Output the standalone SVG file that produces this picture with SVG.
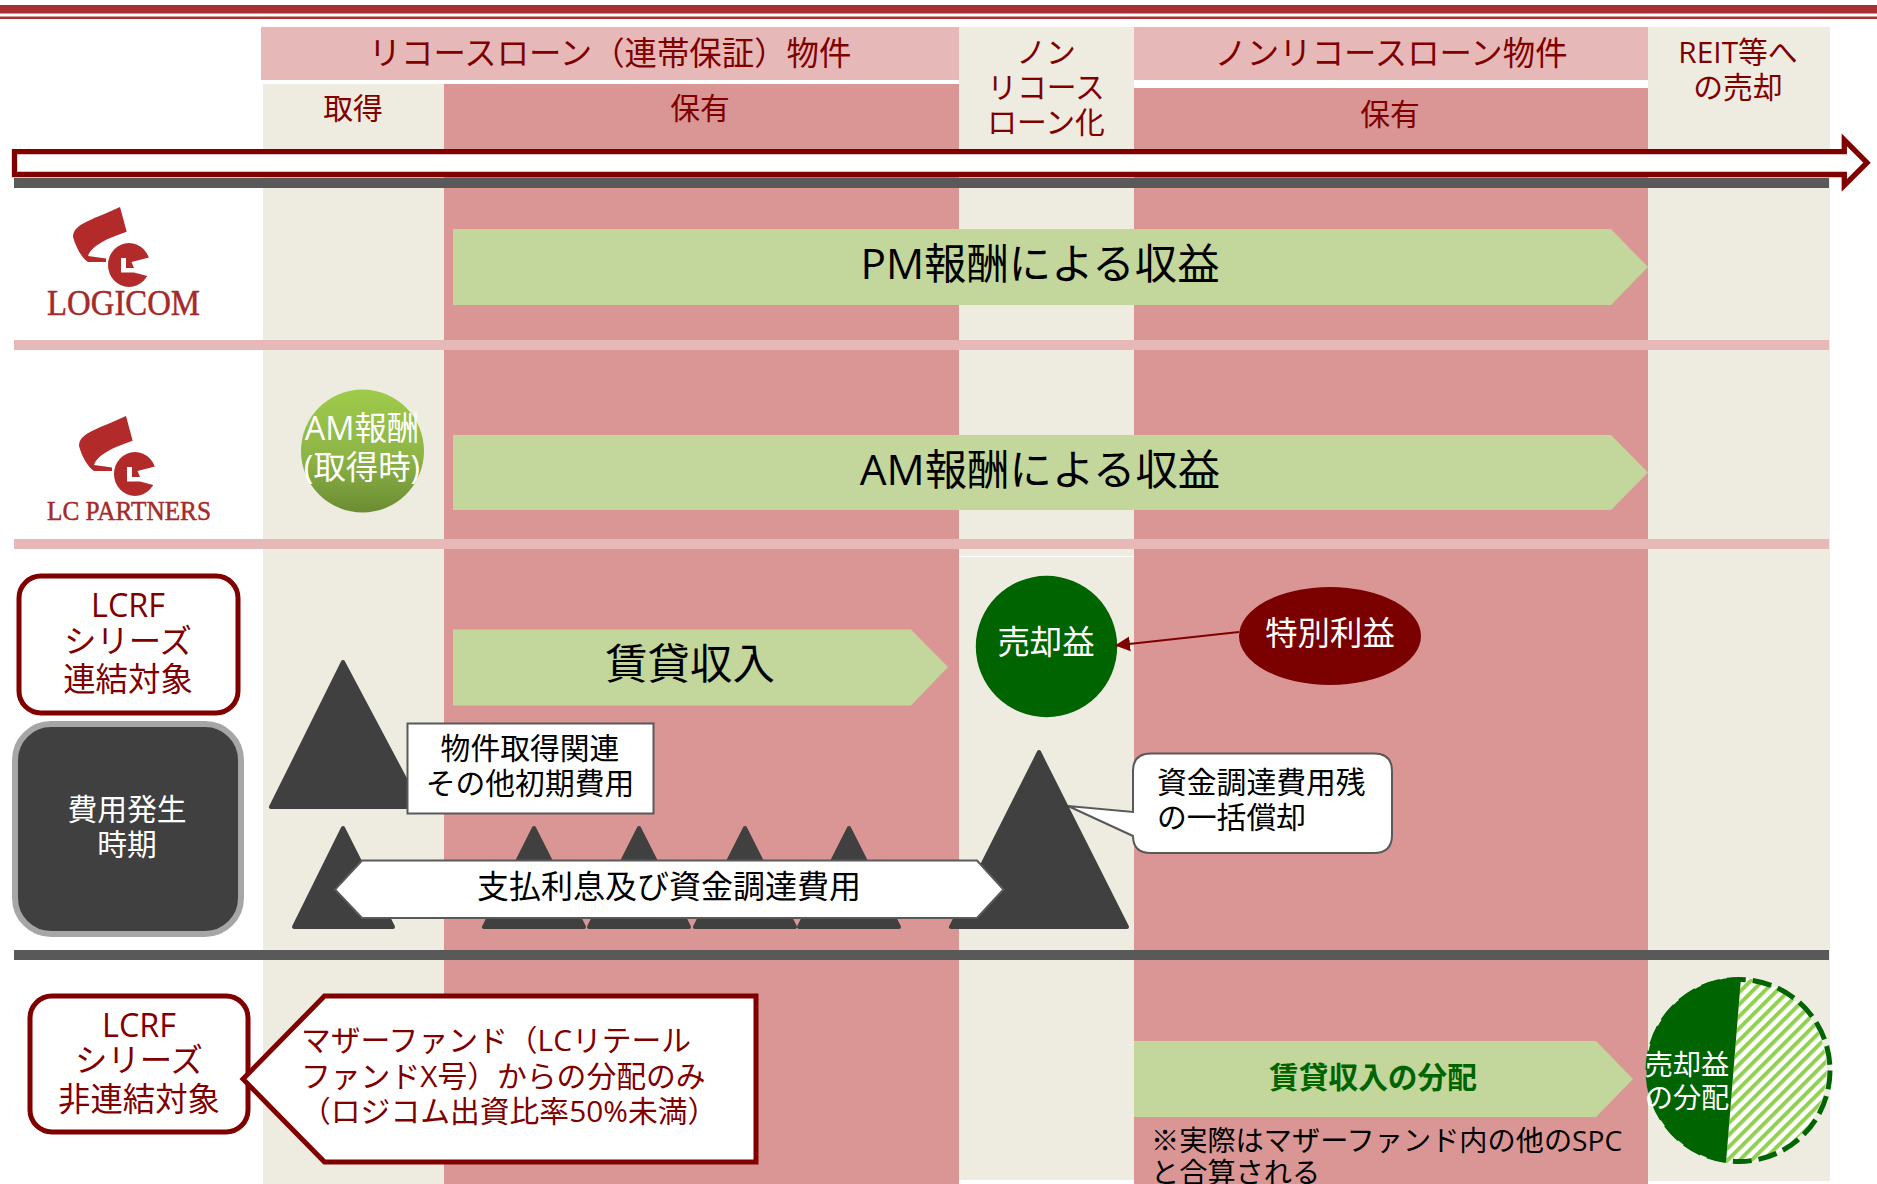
<svg xmlns="http://www.w3.org/2000/svg" xmlns:xlink="http://www.w3.org/1999/xlink" width="1877" height="1184" viewBox="0 0 1877 1184">
<style>
text{font-family:"Open Sans","Noto Sans CJK JP",sans-serif;text-anchor:middle}
.r{fill:#800000}.b{fill:#000}.w{fill:#fff}
.s29{font-size:29.8px}.s32{font-size:32.4px}.s42{font-size:42.4px}.s28{font-size:28.2px}
.st{text-anchor:start}
.beige{fill:#EEECE1}.pink{fill:#D99694}.lp{fill:#E6B9B8}.dk{fill:#595959}.gr{fill:#C3D69B}.tri{fill:#404040;stroke:#404040;stroke-width:4;stroke-linejoin:round}
.logo{font-family:"Liberation Serif",serif;fill:#A52A2A;stroke:#A52A2A;stroke-width:.5;text-anchor:start}
.rbox{fill:#fff;stroke:#800000;stroke-width:5}
</style>
<defs>
<linearGradient id="amg" x1="0" y1="0" x2="0" y2="1"><stop offset="0" stop-color="#9FCB4A"/><stop offset="0.55" stop-color="#8DB446"/><stop offset="1" stop-color="#6B8C33"/></linearGradient>
<pattern id="hatch" width="8.5" height="8.5" patternUnits="userSpaceOnUse" patternTransform="rotate(45)"><rect width="8.5" height="8.5" fill="#fff"/><rect width="4" height="8.5" fill="#92D050"/></pattern>
<marker id="ah" markerUnits="userSpaceOnUse" markerWidth="16" markerHeight="16" refX="15" refY="8" orient="auto"><path d="M0,0.5L15,8L0,15.5Z" fill="#800000"/></marker>
<g id="icon">
<path d="M120,207L126.7,231.7C108,238 92,245 88,256L106,258.5L106,262L88,262C82,258 76,248 73,237C73,230 78,226 86,222C98,216 110,212 120,207Z" fill="#B22A2A"/>
<ellipse cx="129" cy="265" rx="21" ry="22" fill="#B22A2A"/>
<path d="M121,258H126V268H134L131.5,262L151,257V277L134,272.5H121Z" fill="#fff"/>
</g>
</defs>

<g id="top-rule"><rect x="0" y="5" width="1877" height="8.5" fill="#A93030"/><rect x="0" y="16.5" width="1877" height="2.5" fill="#A93030"/></g>

<g id="columns">
<rect class="lp" x="261" y="27" width="698" height="53"/>
<rect class="beige" x="263" y="84" width="181" height="1100"/>
<rect class="pink" x="444" y="84" width="515" height="1100"/>
<rect class="beige" x="959" y="27" width="175" height="1153"/>
<rect class="lp" x="1134" y="27" width="514" height="53"/>
<rect class="pink" x="1134" y="88" width="514" height="1096"/>
<rect class="beige" x="1648" y="27" width="182" height="1154"/>
<rect x="959" y="556" width="175" height="1" fill="#fff"/>
<rect class="dk" x="14" y="178" width="1815" height="10"/>
<rect class="lp" x="14" y="340" width="1815" height="10"/>
<rect class="lp" x="14" y="539" width="1815" height="10"/>
<rect class="dk" x="14" y="950" width="1815" height="10"/>
</g>

<g id="headers">
<text class="r s32" x="610" y="65">リコースローン（連帯保証）物件</text>
<text class="r s29" x="353" y="119">取得</text>
<text class="r s29" x="700" y="119">保有</text>
<text class="r s29" x="1046" y="63">ノン</text>
<text class="r s29" x="1046" y="98">リコース</text>
<text class="r s29" x="1046" y="133">ローン化</text>
<text class="r s32" x="1391" y="65">ノンリコースローン物件</text>
<text class="r s29" x="1390" y="125">保有</text>
<text class="r s29" x="1738" y="63">REIT等へ</text>
<text class="r s29" x="1738" y="98">の売却</text>
</g>

<g id="timeline"><path d="M14.5,151.7H1844.3V140L1867,162.7L1844.3,185.4V174.5H14.5Z" fill="#fff" stroke="#800000" stroke-width="5.3"/></g>

<g id="logo-logicom"><use href="#icon"/><text class="logo" x="47" y="315" font-size="35" textLength="153" lengthAdjust="spacingAndGlyphs">LOGICOM</text></g>
<g id="logo-lcpartners"><use href="#icon" transform="translate(6,209)"/><text class="logo" x="47" y="520" font-size="28" textLength="164" lengthAdjust="spacingAndGlyphs">LC PARTNERS</text></g>

<g id="pm-fee"><path class="gr" d="M453,229H1611L1648,267L1611,305H453Z"/><text class="b s42" x="1040" y="279">PM報酬による収益</text></g>
<g id="am-fee"><path class="gr" d="M453,435H1611L1648,472.5L1611,510H453Z"/><text class="b s42" x="1040" y="485">AM報酬による収益</text></g>
<g id="am-acq"><ellipse cx="362.5" cy="451" rx="61.5" ry="61.5" fill="url(#amg)"/><text class="w s32" x="362" y="440">AM報酬</text><text class="w s32" x="362" y="479">(取得時)</text></g>

<g id="lcrf-consol"><rect class="rbox" x="19" y="576" width="219" height="137" rx="22"/><text class="r s32" x="128" y="617">LCRF</text><text class="r s32" x="128" y="653">シリーズ</text><text class="r s32" x="128" y="691">連結対象</text></g>
<g id="cost-timing"><rect x="15" y="724" width="226" height="210" rx="36" fill="#404040" stroke="#A6A6A6" stroke-width="6"/><text class="w s29" x="127" y="820">費用発生</text><text class="w s29" x="127" y="855">時期</text></g>

<g id="rent"><path class="gr" d="M453,629.5H911L948,667L911,705.5H453Z"/><text class="b s42" x="690" y="679">賃貸収入</text></g>

<g id="tri-acq"><path class="tri" d="M343,662L271,807H420Z"/></g>
<g id="acq-label"><rect x="407.5" y="723.5" width="246" height="90" fill="#fff" stroke="#595959" stroke-width="2"/><text class="b s29" x="530" y="759">物件取得関連</text><text class="b s29" x="530" y="794">その他初期費用</text></g>

<g id="tri-interest">
<path class="tri" d="M343,828L294,927H393Z"/>
<path class="tri" d="M534,828L484,927H584Z"/>
<path class="tri" d="M639,828L589,927H689Z"/>
<path class="tri" d="M745,828L695,927H795Z"/>
<path class="tri" d="M849,828L799,927H899Z"/>
</g>
<g id="writeoff-label"><path d="M1151,753.5H1374Q1392,753.5 1392,771V835Q1392,853 1374,853H1151Q1133,853 1133,836L1068,806L1133,812V771Q1133,753.5 1151,753.5Z" fill="#fff" stroke="#595959" stroke-width="2"/><text class="b s29 st" x="1157" y="793">資金調達費用残</text><text class="b s29 st" x="1157" y="828">の一括償却</text></g>
<g id="tri-writeoff"><path class="tri" d="M1039,752L951,927H1127Z"/></g>
<g id="interest-label"><path d="M362,860.5H977L1003.5,889.5L977,918H362L335,889.5Z" fill="#fff" stroke="#595959" stroke-width="2"/><text class="b" font-size="32" x="669" y="898">支払利息及び資金調達費用</text></g>

<g id="sale-gain"><circle cx="1046.5" cy="646.5" r="70.7" fill="#006400"/><text class="w s32" x="1046" y="654">売却益</text></g>
<g id="special-gain"><ellipse cx="1330" cy="636" rx="91" ry="49" fill="#7B0000"/><text class="w s32" x="1330" y="645">特別利益</text></g>
<g id="connectors"><line x1="1239" y1="632" x2="1115" y2="645.5" stroke="#800000" stroke-width="2" marker-end="url(#ah)"/></g>

<g id="lcrf-nonconsol"><rect class="rbox" x="30" y="996" width="218" height="136" rx="22"/><text class="r s32" x="139" y="1037">LCRF</text><text class="r s32" x="139" y="1072">シリーズ</text><text class="r s32" x="139" y="1111">非連結対象</text></g>
<g id="mother-fund"><path class="rbox" d="M324.5,996H756V1162H324.5L243,1079Z"/><text class="r s29 st" x="301" y="1051">マザーファンド（LCリテール</text><text class="r s29 st" x="301" y="1087">ファンドX号）からの分配のみ</text><text class="r s29 st" x="301" y="1122">（ロジコム出資比率50%未満）</text></g>

<g id="rent-dist"><path class="gr" d="M1134,1041H1596L1633,1079L1596,1117H1134Z"/><text x="1373" y="1088" font-size="29.7" font-weight="700" fill="#006400">賃貸収入の分配</text></g>
<g id="note"><text class="b s28 st" x="1151" y="1151">※実際はマザーファンド内の他のSPC</text><text class="b s28 st" x="1151" y="1183">と合算される</text></g>

<g id="sale-dist">
<path d="M1741,977.5A93,93 0 0 1 1726,1163L1741,977.5Z" fill="url(#hatch)"/>
<circle cx="1739" cy="1070.5" r="91" fill="none" stroke="#006400" stroke-width="5" stroke-dasharray="19 7"/>
<path d="M1741,977.5A93,93 0 0 0 1726,1162.5Z" fill="#006400"/>
<text class="w s28" x="1687" y="1075">売却益</text><text class="w s28" x="1687" y="1108">の分配</text>
</g>
</svg>
